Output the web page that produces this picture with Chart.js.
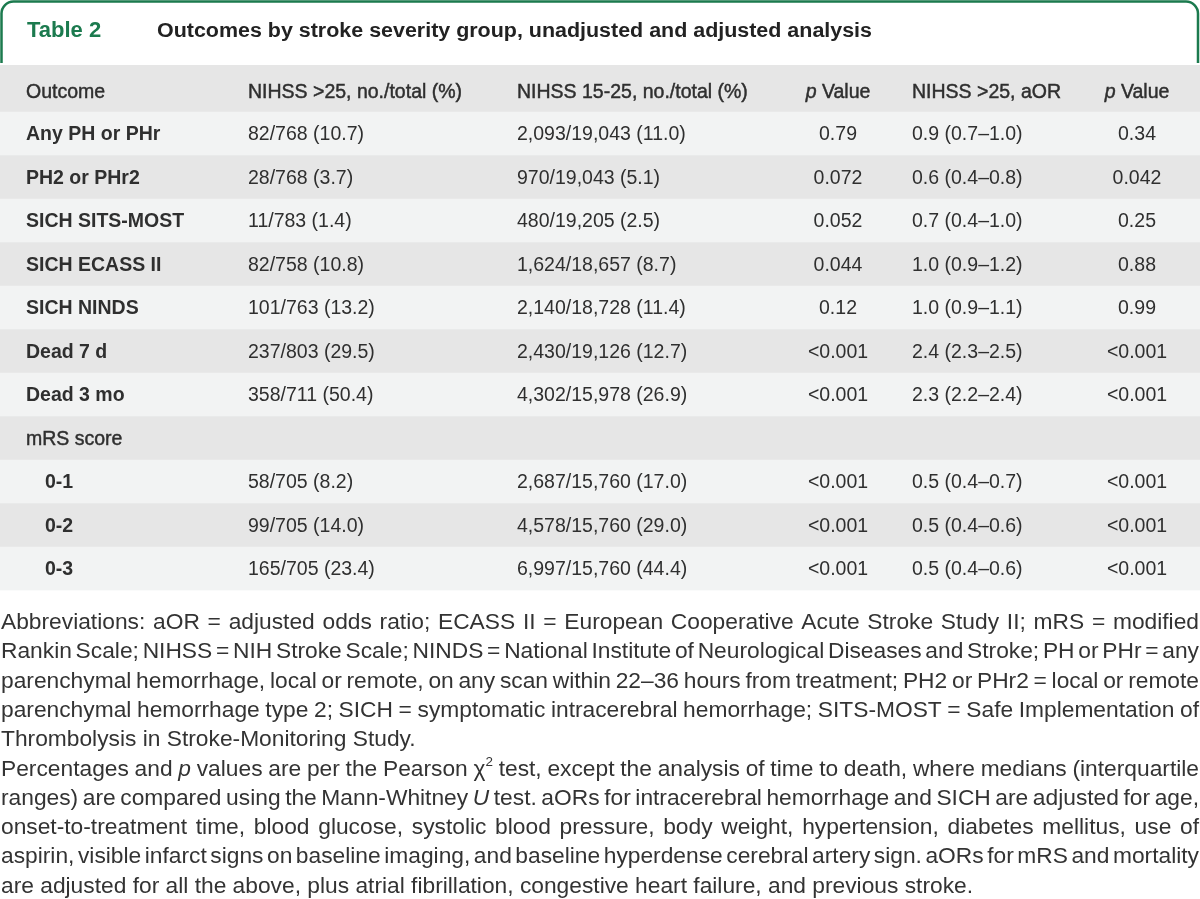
<!DOCTYPE html>
<html>
<head>
<meta charset="utf-8">
<script src="https://cdn.jsdelivr.net/npm/chart.js@4.4.1/dist/chart.umd.min.js"></script>
<style>
  html, body { margin: 0; padding: 0; background: #fff; }
  #table2 { display: block; }
</style>
</head>
<body>
<canvas id="table2" width="1200" height="899"></canvas>
<script>
// Данные таблицы: строки и столбцы.
var tableNo = 'Table 2';
var tableTitle = 'Outcomes by stroke severity group, unadjusted and adjusted analysis';

var headers = ['Outcome', 'NIHSS >25, no./total (%)', 'NIHSS 15-25, no./total (%)', 'p Value', 'NIHSS >25, aOR', 'p Value'];

var outcomes = ['Any PH or PHr', 'PH2 or PHr2', 'SICH SITS-MOST', 'SICH ECASS II', 'SICH NINDS',
  'Dead 7 d', 'Dead 3 mo', 'mRS score', '0-1', '0-2', '0-3'];
var subRow = [0, 0, 0, 0, 0, 0, 0, 0, 1, 1, 1];

var severe = ['82/768 (10.7)', '28/768 (3.7)', '11/783 (1.4)', '82/758 (10.8)', '101/763 (13.2)',
  '237/803 (29.5)', '358/711 (50.4)', '', '58/705 (8.2)', '99/705 (14.0)', '165/705 (23.4)'];
var moderate = ['2,093/19,043 (11.0)', '970/19,043 (5.1)', '480/19,205 (2.5)', '1,624/18,657 (8.7)', '2,140/18,728 (11.4)',
  '2,430/19,126 (12.7)', '4,302/15,978 (26.9)', '', '2,687/15,760 (17.0)', '4,578/15,760 (29.0)', '6,997/15,760 (44.4)'];
var pUnadj = ['0.79', '0.072', '0.052', '0.044', '0.12', '<0.001', '<0.001', '', '<0.001', '<0.001', '<0.001'];
var aOR = ['0.9 (0.7–1.0)', '0.6 (0.4–0.8)', '0.7 (0.4–1.0)', '1.0 (0.9–1.2)', '1.0 (0.9–1.1)',
  '2.4 (2.3–2.5)', '2.3 (2.2–2.4)', '', '0.5 (0.4–0.7)', '0.5 (0.4–0.6)', '0.5 (0.4–0.6)'];
var pAdj = ['0.34', '0.042', '0.25', '0.88', '0.99', '<0.001', '<0.001', '', '<0.001', '<0.001', '<0.001'];

// Примечания: [текст, стиль] ; i - курсив, s - верхний индекс. justify=false для последней строки абзаца.
var notes = [
  { runs: [['Abbreviations: aOR = adjusted odds ratio; ECASS II = European Cooperative Acute Stroke Study II; mRS = modified']], justify: true },
  { runs: [['Rankin Scale; NIHSS = NIH Stroke Scale; NINDS = National Institute of Neurological Diseases and Stroke; PH or PHr = any']], justify: true },
  { runs: [['parenchymal hemorrhage, local or remote, on any scan within 22–36 hours from treatment; PH2 or PHr2 = local or remote']], justify: true },
  { runs: [['parenchymal hemorrhage type 2; SICH = symptomatic intracerebral hemorrhage; SITS-MOST = Safe Implementation of']], justify: true },
  { runs: [['Thrombolysis in Stroke-Monitoring Study.']], justify: false },
  { runs: [['Percentages and '], ['p', 'i'], [' values are per the Pearson χ'], ['2', 's'], [' test, except the analysis of time to death, where medians (interquartile']], justify: true },
  { runs: [['ranges) are compared using the Mann-Whitney '], ['U', 'i'], [' test. aORs for intracerebral hemorrhage and SICH are adjusted for age,']], justify: true },
  { runs: [['onset-to-treatment time, blood glucose, systolic blood pressure, body weight, hypertension, diabetes mellitus, use of']], justify: true },
  { runs: [['aspirin, visible infarct signs on baseline imaging, and baseline hyperdense cerebral artery sign. aORs for mRS and mortality']], justify: true },
  { runs: [['are adjusted for all the above, plus atrial fibrillation, congestive heart failure, and previous stroke.']], justify: false }
];

// Оформление
var GREEN = '#1b7a4e';
var TEXT = '#2f2f2f';
var BAND_DARK = '#e6e6e6';
var BAND_LIGHT = '#f2f3f3';
var FONT = '"Liberation Sans", Arial, sans-serif';
var CELL_SIZE = 19.5;
var colX = [26, 248, 517, 838, 912, 1137];
var colAlign = ['left', 'left', 'left', 'center', 'left', 'center'];

var rowLabels = ['header'].concat(outcomes);
var stripeColors = rowLabels.map(function(label, i) {
  return (i % 2 === 0) ? BAND_DARK : BAND_LIGHT;
});

function drawText(ctx, text, x, y, font, align, medium) {
  var put = function(t, px) {
    ctx.fillText(t, px, y);
    if (medium) ctx.strokeText(t, px, y);
  };
  ctx.textAlign = 'left';
  // p Value: курсивная p
  var m = /^p (.*)$/.exec(text);
  if (m) {
    var italic = 'italic ' + font;
    ctx.font = italic;
    var w1 = ctx.measureText('p').width;
    ctx.font = font;
    var rest = ' ' + m[1];
    var w2 = ctx.measureText(rest).width;
    var start = align === 'center' ? x - (w1 + w2) / 2 : x;
    ctx.font = italic;
    put('p', start);
    ctx.font = font;
    put(rest, start + w1);
    return;
  }
  ctx.font = font;
  var w = ctx.measureText(text).width;
  put(text, align === 'center' ? x - w / 2 : x);
}

function runFont(style, size) {
  if (style === 'i') return 'italic ' + size + 'px ' + FONT;
  if (style === 's') return Math.round(size * 0.6) + 'px ' + FONT;
  return size + 'px ' + FONT;
}

function lineWords(runs) {
  var words = [[]];
  runs.forEach(function(run) {
    var parts = run[0].split(' ');
    parts.forEach(function(part, k) {
      if (k > 0) words.push([]);
      if (part !== '') words[words.length - 1].push({ t: part, s: run[1] });
    });
  });
  return words.filter(function(w) { return w.length; });
}

var tablePlugin = {
  id: 'tableText',
  beforeDatasetsDraw: function(chart) {
    var ctx = chart.ctx;
    var area = chart.chartArea;
    ctx.save();
    // полоска шапки выше области графика
    ctx.fillStyle = BAND_DARK;
    ctx.fillRect(0, 65, 1200, area.top - 65 + 1);

    // рамка заголовка
    ctx.strokeStyle = GREEN;
    ctx.lineWidth = 2.5;
    ctx.beginPath();
    ctx.moveTo(1.5, 63);
    ctx.lineTo(1.5, 13);
    ctx.arcTo(1.5, 1.5, 13, 1.5, 12);
    ctx.lineTo(1186, 1.5);
    ctx.arcTo(1198, 1.5, 1198, 13, 12);
    ctx.lineTo(1198, 63);
    ctx.stroke();

    ctx.textBaseline = 'alphabetic';
    ctx.textAlign = 'left';
    ctx.fillStyle = GREEN;
    ctx.font = 'bold 22px ' + FONT;
    ctx.fillText(tableNo, 27, 37);
    ctx.fillStyle = '#222';
    ctx.font = 'bold 20px ' + FONT;
    var tw = ctx.measureText(tableTitle).width;
    ctx.translate(157, 37);
    ctx.scale(715 / tw, 1);
    ctx.fillText(tableTitle, 0, 0);
    ctx.restore();
  },
  afterDatasetsDraw: function(chart) {
    var ctx = chart.ctx;
    var xs = chart.scales.x, ys = chart.scales.y;
    ctx.save();
    ctx.fillStyle = TEXT;
    ctx.strokeStyle = TEXT;
    ctx.lineWidth = 0.45;
    ctx.textBaseline = 'middle';

    var headFont = CELL_SIZE + 'px ' + FONT;
    var hy = ys.getPixelForValue(0) + 2;
    headers.forEach(function(h, c) {
      drawText(ctx, h, xs.getPixelForValue(colX[c]), hy, headFont, colAlign[c], true);
    });

    var cols = [outcomes, severe, moderate, pUnadj, aOR, pAdj];
    outcomes.forEach(function(name, i) {
      var y = ys.getPixelForValue(i + 1) + 1;
      cols.forEach(function(col, c) {
        var text = col[i];
        if (!text) return;
        var font = CELL_SIZE + 'px ' + FONT;
        var x = colX[c];
        var medium = false;
        if (c === 0) {
          if (name === 'mRS score') medium = true;
          else font = 'bold ' + font;
          if (subRow[i]) x += 19;
        }
        drawText(ctx, text, xs.getPixelForValue(x), y, font, colAlign[c], medium);
      });
    });

    // примечания под таблицей
    var size = 22;
    ctx.textBaseline = 'middle';
    ctx.fillStyle = '#333';
    ctx.font = runFont('', size);
    var lastText = notes[notes.length - 1].runs[0][0];
    var sx = 972 / ctx.measureText(lastText).width;
    var top = 623, lead = 29.3, full = 1198 / sx;

    notes.forEach(function(line, n) {
      var words = lineWords(line.runs);
      var widths = words.map(function(word) {
        return word.reduce(function(sum, piece) {
          ctx.font = runFont(piece.s, size);
          return sum + ctx.measureText(piece.t).width;
        }, 0);
      });
      ctx.font = runFont('', size);
      var space = ctx.measureText(' ').width;
      var total = widths.reduce(function(a, b) { return a + b; }, 0);
      var gap = line.justify ? (full - total) / (words.length - 1) : space;
      var y = top + n * lead;
      ctx.save();
      ctx.translate(1, y);
      ctx.scale(sx, 1);
      var x = 0;
      words.forEach(function(word) {
        word.forEach(function(piece) {
          ctx.font = runFont(piece.s, size);
          ctx.fillText(piece.t, x, piece.s === 's' ? -7 : 0);
          x += ctx.measureText(piece.t).width;
        });
        x += gap;
      });
      ctx.restore();
    });
    ctx.restore();
  }
};

var chart = new Chart(document.getElementById('table2'), {
  type: 'bar',
  data: {
    labels: rowLabels,
    datasets: [{
      label: 'rows',
      data: rowLabels.map(function() { return [0, 1200]; }),
      backgroundColor: stripeColors,
      borderWidth: 0,
      barPercentage: 1,
      categoryPercentage: 1
    }]
  },
  options: {
    indexAxis: 'y',
    responsive: false,
    animation: false,
    devicePixelRatio: 1,
    layout: { padding: { top: 68.5, bottom: 308.5, left: 0, right: 0 } },
    plugins: { legend: { display: false }, tooltip: { enabled: false } },
    scales: {
      x: { type: 'linear', min: 0, max: 1200, display: false },
      y: { type: 'category', display: false }
    }
  },
  plugins: [tablePlugin]
});
</script>
</body>
</html>
